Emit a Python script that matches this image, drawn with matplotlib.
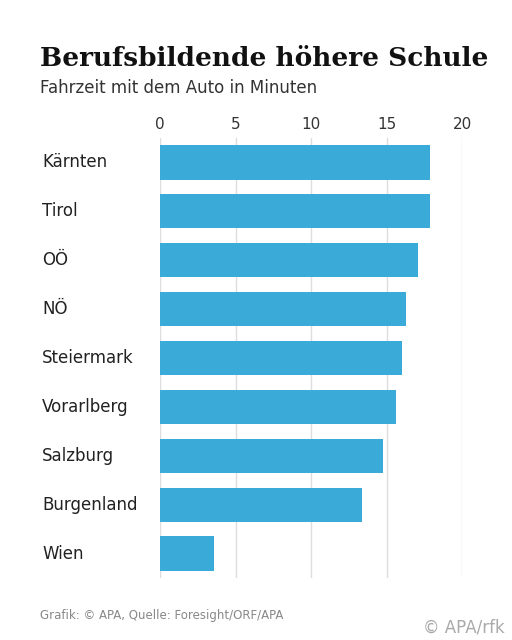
import matplotlib.pyplot as plt

regions = ["Kärnten", "Tirol", "OÖ", "NÖ", "Steiermark", "Vorarlberg", "Salzburg", "Burgenland", "Wien"]
minutes = [17.9, 17.9, 17.1, 16.3, 16.0, 15.6, 14.8, 13.4, 3.6]
ticks = [0, 5, 10, 15, 20]

fig = plt.figure(figsize=(5.12, 6.4), dpi=100)
ax = fig.add_axes([160/512, 1-578/640, 302/512, 440/640])

y = range(len(regions))
ax.barh(y, minutes, height=0.7, color="#3aabd8", zorder=2)
ax.set_ylim(len(regions)-0.5, -0.5)
ax.set_xlim(0, 20)
ax.set_xticks(ticks)
ax.xaxis.tick_top()
ax.tick_params(axis="x", length=0, labelsize=11, labelcolor="#333333", pad=4)
ax.set_yticks([])
ax.grid(axis="x", color="#dddddd", linewidth=1, zorder=0)
for s in ax.spines.values():
    s.set_visible(False)

for i, r in enumerate(regions):
    ax.text(-118/15.1, i, r, ha="left", va="center", fontsize=12, color="#222222")

fig.text(40/512, 1-58/640, "Berufsbildende höhere Schule", fontsize=19, fontweight="bold",
         family="DejaVu Serif", va="center", color="#111111")
fig.text(40/512, 1-88/640, "Fahrzeit mit dem Auto in Minuten", fontsize=12, va="center", color="#333333")
fig.text(40/512, 1-615/640, "Grafik: © APA, Quelle: Foresight/ORF/APA", fontsize=8.5, va="center", color="#888888")
fig.text(505/512, 1-627/640, "© APA/rfk", fontsize=12, va="center", ha="right", color="#aaaaaa")

fig.savefig("out.png", dpi=100, facecolor="white")
